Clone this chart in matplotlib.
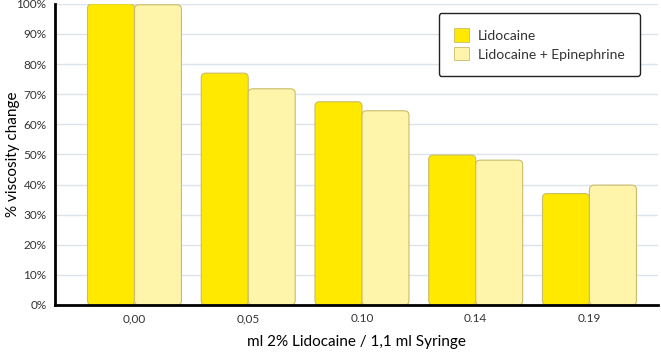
import matplotlib
matplotlib.use("Agg")
from matplotlib import pyplot as plt
from matplotlib.patches import FancyBboxPatch
import numpy as np

categories = ["0,00", "0,05", "0.10", "0.14", "0.19"]
lidocaine = [100.0, 77.0, 67.5, 49.8, 37.0]
lido_epi = [99.7, 71.8, 64.5, 48.1, 39.8]
yticks = np.arange(0, 101, 10)

LIDO_COLOR = "#ffe900"
EPI_COLOR = "#fff5aa"
EDGE_COLOR = "#c9bc6a"
GRID_COLOR = "#dde3ea"
TEXT_COLOR = "#333333"

plt.rcParams.update({
    "font.family": ["Lato", "DejaVu Sans"],
    "text.color": TEXT_COLOR,
    "xtick.color": TEXT_COLOR,
    "ytick.color": TEXT_COLOR,
})

fig = plt.figure(figsize=(6.61, 3.53), dpi=100)
ax = fig.add_axes([0.083, 0.136, 0.912, 0.853])

x = np.arange(len(categories))
width = 0.413


def rounded_bars(ax, xs, heights, color, label):
    bars = ax.bar(xs, heights, width, color=color, edgecolor=EDGE_COLOR,
                  linewidth=0.8, label=label, zorder=2)
    # swap each rectangle for a rounded one of the same size
    for rect in bars:
        rect.set_visible(False)
        patch = FancyBboxPatch((rect.get_x(), rect.get_y()),
                               rect.get_width(), rect.get_height(),
                               boxstyle="round,pad=0,rounding_size=0.04",
                               mutation_aspect=37.5,
                               facecolor=color, edgecolor=EDGE_COLOR,
                               linewidth=0.8, zorder=2)
        ax.add_patch(patch)
    return bars


rounded_bars(ax, x - width / 2, lidocaine, LIDO_COLOR, "Lidocaine")
rounded_bars(ax, x + width / 2, lido_epi, EPI_COLOR, "Lidocaine + Epinephrine")

ax.set_xlim(-0.70, 4.60)
ax.set_ylim(0, 100)
ax.set_yticks(yticks)
ax.set_yticklabels([f"{v}%" for v in yticks], fontsize=8.5)
ax.set_xticks(x)
ax.set_xticklabels(categories, fontsize=8.5)
ax.tick_params(length=0, pad=6)
ax.yaxis.grid(True, color=GRID_COLOR, linewidth=1.0, zorder=0)
ax.set_axisbelow(True)

for side in ["top", "right"]:
    ax.spines[side].set_visible(False)
for side in ["left", "bottom"]:
    ax.spines[side].set_linewidth(2.0)
    ax.spines[side].set_color("black")
    ax.spines[side].set_zorder(3)

ax.set_ylabel("% viscosity change", fontsize=11, va="center")
ax.yaxis.set_label_coords(-0.069, 0.5)
ax.set_xlabel("ml 2% Lidocaine / 1,1 ml Syringe", fontsize=11, labelpad=8)

handles = [plt.Rectangle((0, 0), 1, 1, facecolor=LIDO_COLOR, edgecolor=EDGE_COLOR, linewidth=0.6),
           plt.Rectangle((0, 0), 1, 1, facecolor=EPI_COLOR, edgecolor=EDGE_COLOR, linewidth=0.6)]
leg = ax.legend(handles, ["Lidocaine", "Lidocaine + Epinephrine"],
                loc="upper right", bbox_to_anchor=(0.97, 0.97),
                fontsize=10, frameon=True, fancybox=True,
                handlelength=1.1, handleheight=1.1, borderpad=1.1,
                labelspacing=0.4, handletextpad=0.6, borderaxespad=0)
frame = leg.get_frame()
frame.set_edgecolor("#222222")
frame.set_linewidth(1.0)
frame.set_alpha(1)

fig.savefig("out.png", dpi=100)
